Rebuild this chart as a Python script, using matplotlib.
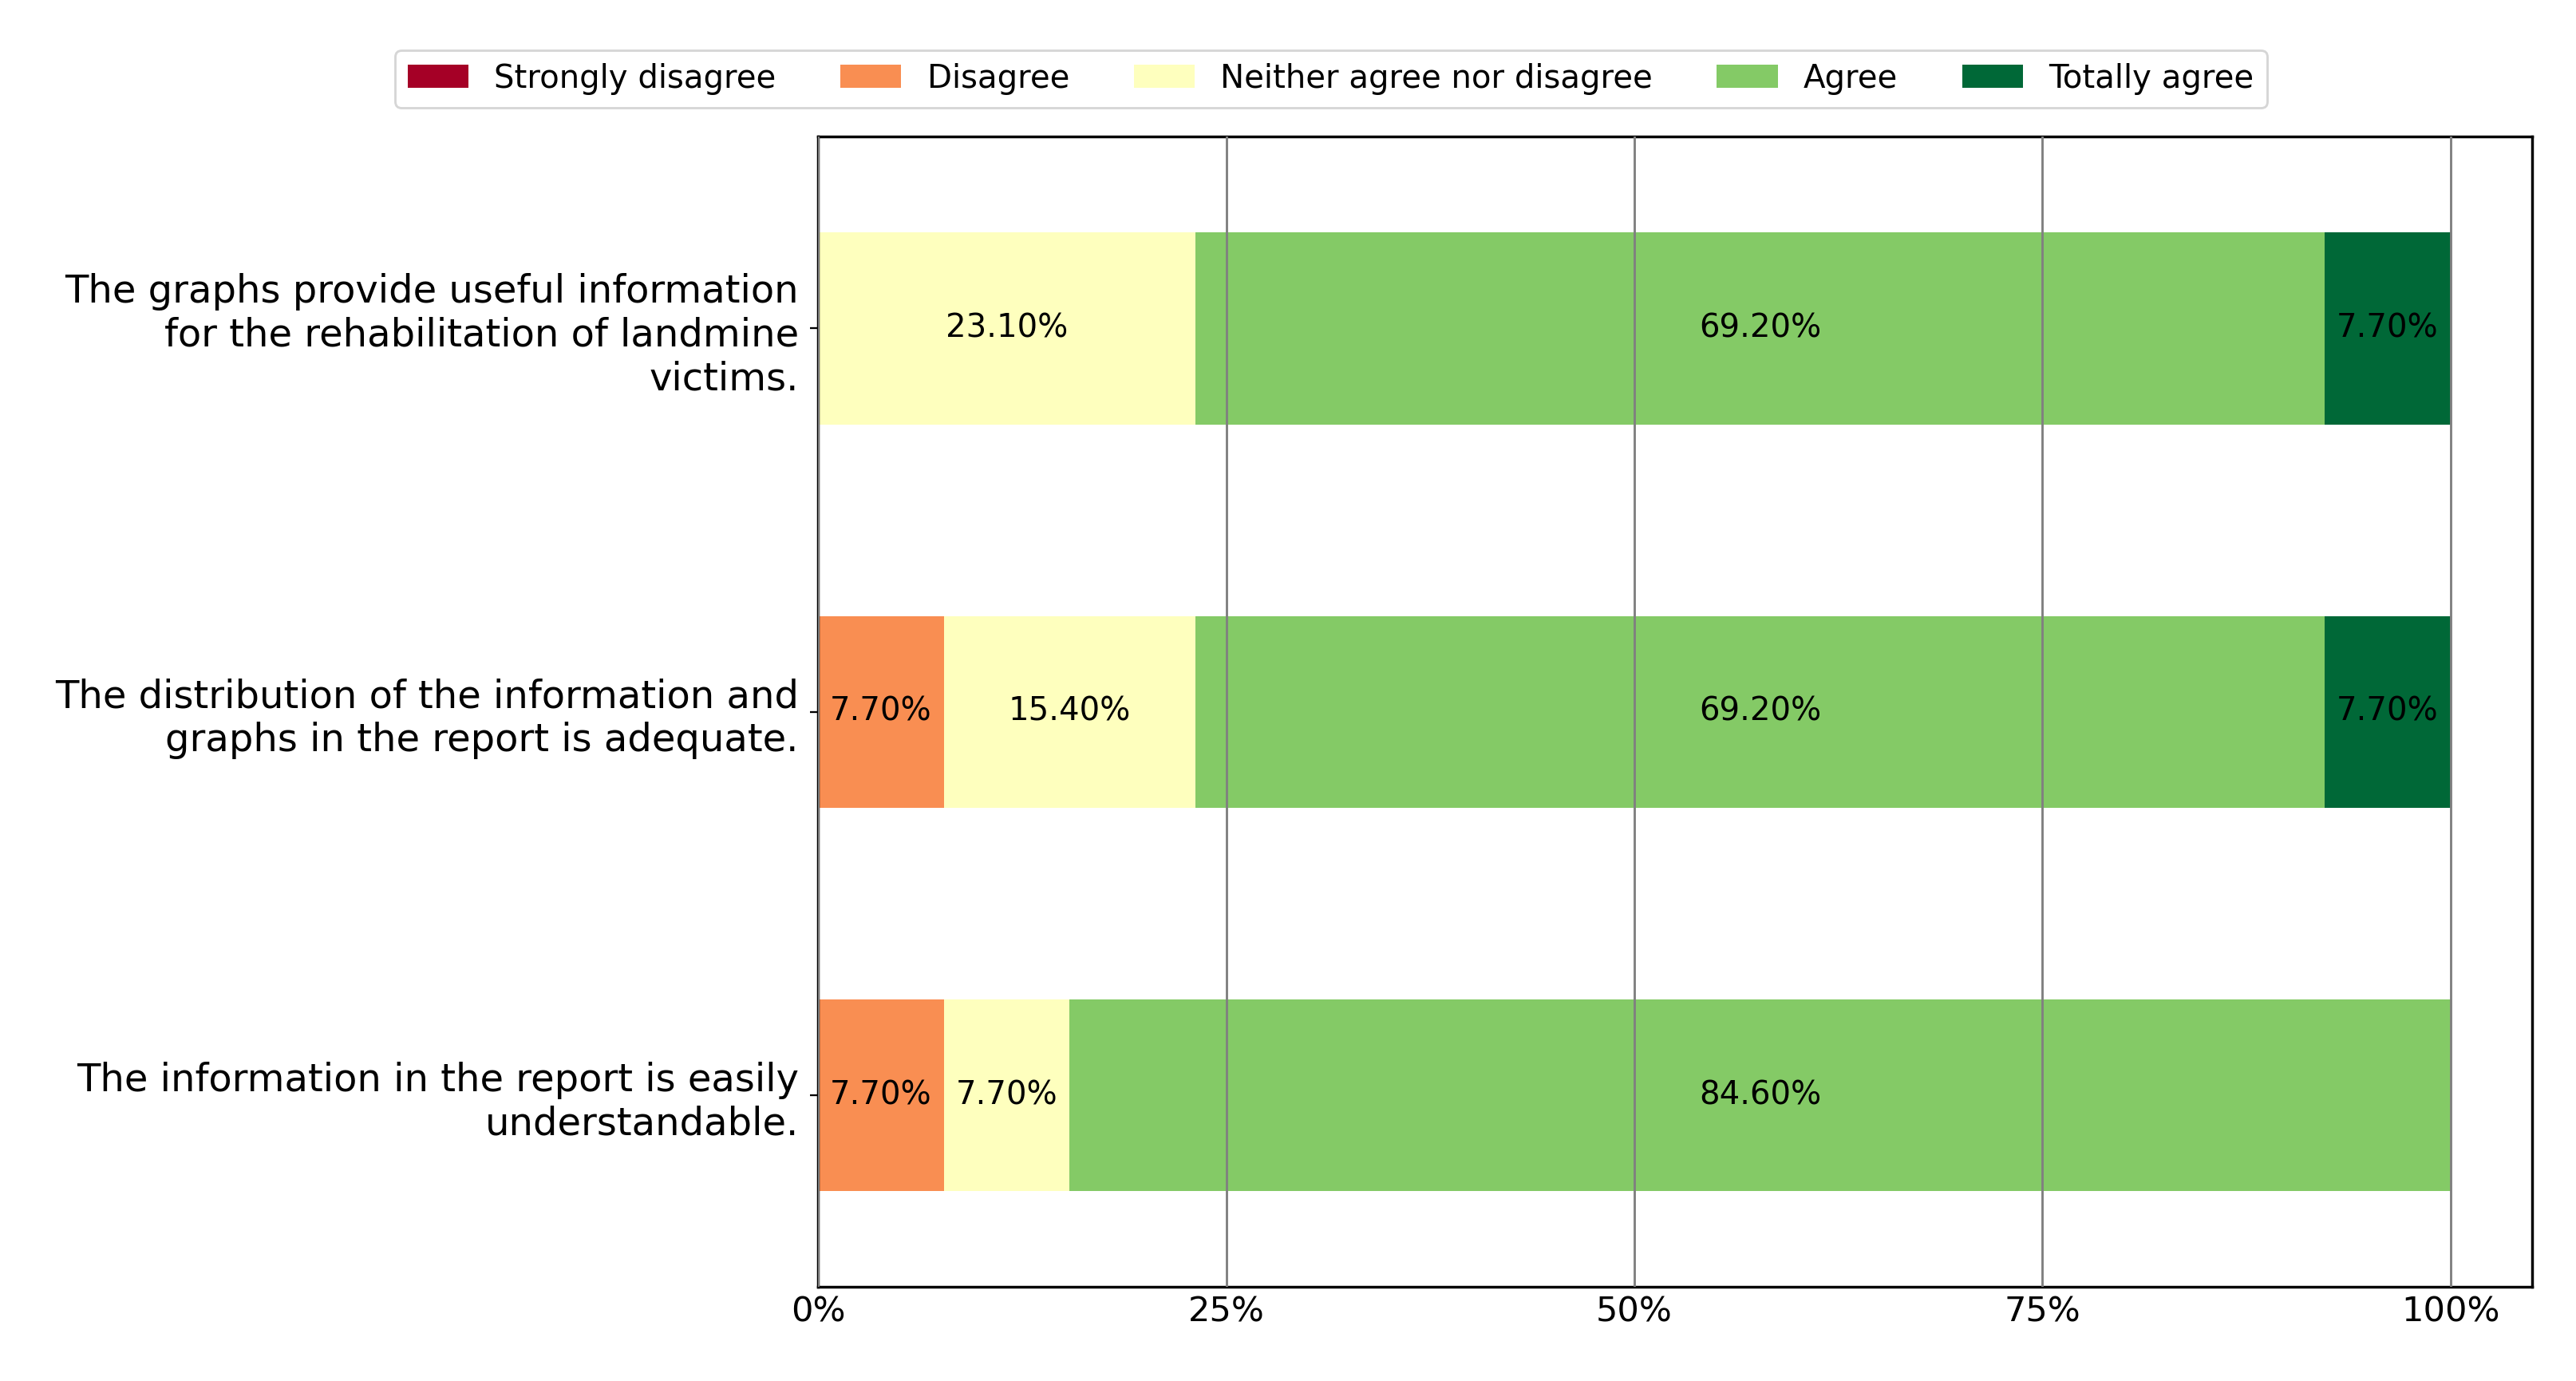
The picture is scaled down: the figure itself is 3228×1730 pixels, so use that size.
import numpy as np
import matplotlib.pyplot as plt

questions = ['The graphs provide useful information\nfor the rehabilitation of landmine\nvictims.',
             'The distribution of the information and\ngraphs in the report is adequate.',
             'The information in the report is easily\nunderstandable.']
categories = ['Strongly disagree', 'Disagree', 'Neither agree nor disagree', 'Agree', 'Totally agree']
strongly_disagree = [0.0, 0.0, 0.0]
disagree = [0.0, 7.7, 7.7]
neither = [23.1, 15.4, 7.7]
agree = [69.2, 69.2, 84.6]
totally_agree = [7.7, 7.7, 0.0]

data = np.array([strongly_disagree, disagree, neither, agree, totally_agree]).T
colors = plt.get_cmap('RdYlGn')(np.linspace(0, 1, len(categories)))

W, H = 3228, 1730
dpi = W / 15.6
fig, ax = plt.subplots(figsize=(15.6, H / dpi), dpi=dpi)
fig.subplots_adjust(left=0.3176, right=0.983, bottom=0.068, top=0.901)

cum = np.cumsum(data, axis=1)
starts = cum - data
y = np.arange(len(questions))
for i, (name, color) in enumerate(zip(categories, colors)):
    w = data[:, i] / 100
    ax.barh(y, w, left=starts[:, i] / 100, height=0.5, color=color, label=name, zorder=1)
    for yy, ww, ss in zip(y, data[:, i], starts[:, i]):
        if ww > 0:
            ax.text((ss + ww / 2) / 100, yy, f'{ww:.2f}%', ha='center', va='center',
                    fontsize=14, color='black', zorder=3)

ax.set_yticks(y)
ax.set_yticklabels(questions, fontsize=16.7)
ax.tick_params(axis='y', pad=5)
ax.set_ylim(2.5, -0.5)
ax.set_xlim(0, 1.05)
ax.set_xticks([0, 0.25, 0.5, 0.75, 1.0])
ax.set_xticklabels(['0%', '25%', '50%', '75%', '100%'], fontsize=15)
ax.tick_params(axis='x', length=0)
ax.xaxis.grid(True, color='gray', linewidth=1, zorder=2)
ax.set_axisbelow(False)
for sp in ax.spines.values():
    sp.set_linewidth(1.2)

handles, labels = ax.get_legend_handles_labels()
fig.legend(handles, labels, ncol=5, loc='center', bbox_to_anchor=(0.5166, 0.943), fontsize=14,
           handlelength=1.9, columnspacing=2.0, frameon=True)

fig.savefig('out.png', dpi=dpi)
